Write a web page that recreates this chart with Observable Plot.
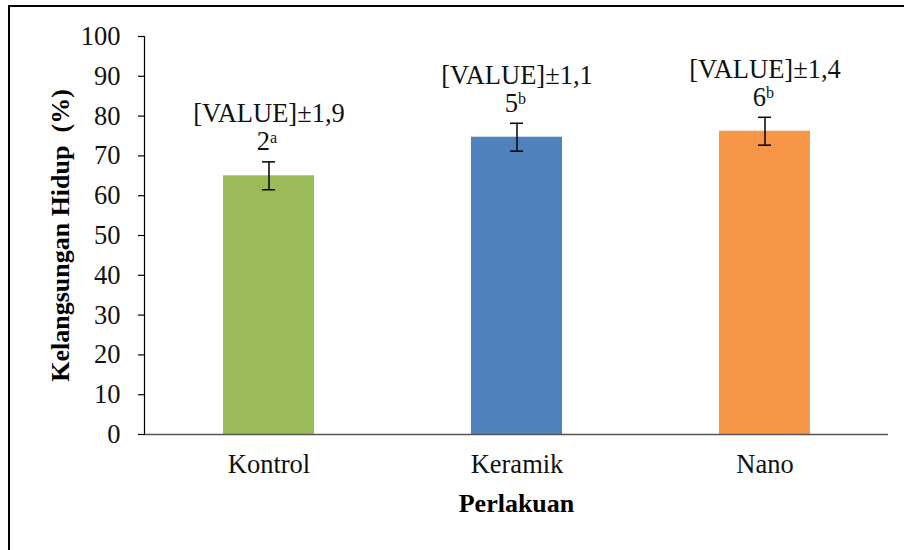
<!DOCTYPE html>
<html><head><meta charset="utf-8">
<script src="https://cdn.jsdelivr.net/npm/d3@7"></script>
<script src="https://cdn.jsdelivr.net/npm/@observablehq/plot@0.6"></script>
<style>
body{margin:0;width:904px;height:550px;overflow:hidden;background:#fff;position:relative}
#frame{position:absolute;left:8px;top:5px;width:1000px;height:1000px;border:2.5px solid #000;}
#chart{position:absolute;left:0;top:0}
#chart svg, #chart svg text{font-family:"Liberation Serif", serif !important}
</style></head><body><div id="frame"></div><div id="chart"></div>
<script>
const categories = ["Kontrol", "Keramik", "Nano"];
const values = [65, 74.7, 76.2];
const errors = [3.5, 3.5, 3.5];
const labelLine1 = ["[VALUE]±1,9", "[VALUE]±1,1", "[VALUE]±1,4"];
const labelNum = ["2", "5", "6"];
const labelSup = ["a", "b", "b"];
const colors = ["#9BBB59", "#4F81BD", "#F79646"];
const yTicks = [0, 10, 20, 30, 40, 50, 60, 70, 80, 90, 100];
const xTitle = "Perlakuan";
const yTitle = "Kelangsungan Hidup \u00a0(%)";

const FF = "Liberation Serif";
const FS = 26.5;
const data = categories.map((c, i) => ({
  cat: c, v: values[i], e: errors[i], l1: labelLine1[i], n: labelNum[i], s: labelSup[i]
}));

const chart = Plot.plot({
  width: 904,
  height: 550,
  marginLeft: 144,
  marginRight: 16,
  marginTop: 36,
  marginBottom: 116,
  style: {fontFamily: FF, fontSize: FS + "px", color: "#000", background: "transparent", overflow: "visible"},
  x: {domain: categories, paddingInner: 0.635, paddingOuter: 0.3175, label: null},
  y: {domain: [0, 100], label: null},
  color: {domain: categories, range: colors},
  marks: [
    Plot.barY(data, {x: "cat", y: "v", fill: "cat"}),
    Plot.ruleY([0], {stroke: "#555", strokeWidth: 1.5}),
    Plot.ruleX(data, {x: "cat", y1: d => d.v - d.e, y2: d => d.v + d.e, stroke: "#000", strokeWidth: 1.5}),
    Plot.tickY(data, {x: "cat", y: d => d.v - d.e, stroke: "#000", strokeWidth: 1.5, insetLeft: 39, insetRight: 39}),
    Plot.tickY(data, {x: "cat", y: d => d.v + d.e, stroke: "#000", strokeWidth: 1.5, insetLeft: 39, insetRight: 39}),
    Plot.text(data, {x: "cat", y: "v", text: "l1", dy: -62, fontFamily: FF, fontSize: FS, fill: "#111", textAnchor: "middle"}),
    Plot.text(data, {x: "cat", y: "v", text: "n", dy: -34, dx: 1, fontFamily: FF, fontSize: FS, fill: "#111", textAnchor: "end"}),
    Plot.text(data, {x: "cat", y: "v", text: "s", dy: -38, dx: 1, fontFamily: FF, fontSize: 16, fill: "#111", textAnchor: "start"}),
    Plot.axisY({ticks: yTicks, tickSize: 6, tickPadding: 18, fontFamily: FF, fontSize: FS, stroke: "#000", strokeWidth: 1.2, strokeOpacity: 1, fill: "#111", label: null}),
    Plot.frame({anchor: "left", stroke: "#000", strokeWidth: 1.2}),
    Plot.axisX({tickSize: 0, tickPadding: 20, fontFamily: FF, fontSize: FS, fill: "#111", label: null}),
    Plot.text([yTitle], {frameAnchor: "left", dx: -84, rotate: -90, fontFamily: FF, fontSize: 26, fontWeight: "bold", fill: "#000", textAnchor: "middle", lineAnchor: "middle"}),
    Plot.text([xTitle], {frameAnchor: "bottom", dy: 69, fontFamily: FF, fontSize: 26, fontWeight: "bold", fill: "#000", textAnchor: "middle", lineAnchor: "middle"})
  ]
});
document.getElementById("chart").appendChild(chart);
</script></body></html>
